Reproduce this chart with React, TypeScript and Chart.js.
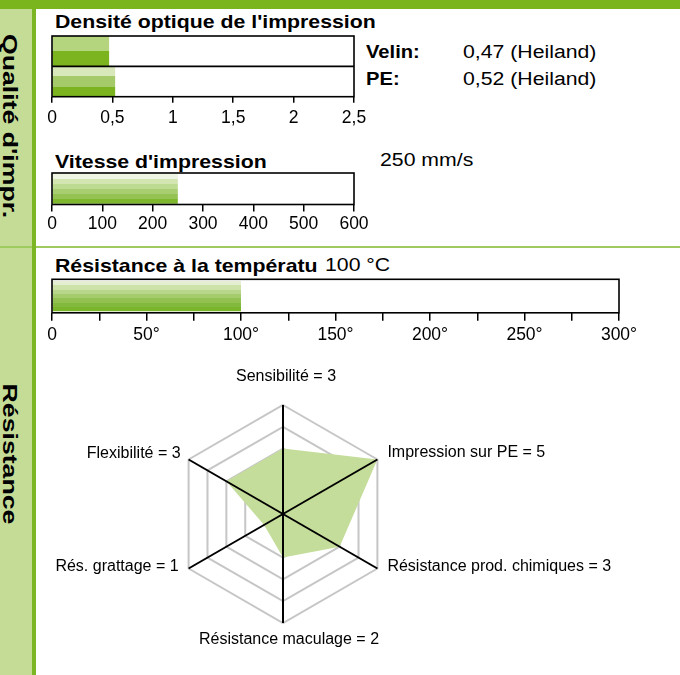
import React, { useEffect, useRef } from 'react';
import { Chart, registerables } from 'chart.js';

Chart.register(...registerables);

const FONT = '"Liberation Sans", Arial, Helvetica, sans-serif';

// ---------------- data ----------------
const densityCategories = ['Velin', 'PE'];
const densityValues = [0.47, 0.52];
const densityTickLabels = ['0', '0,5', '1', '1,5', '2', '2,5'];

const speedCategories = ["Vitesse d'impression"];
const speedValues = [250];
const speedTickLabels = ['0', '100', '200', '300', '400', '500', '600'];

const tempCategories = ['Résistance à la température'];
const tempValues = [100];
const tempTickLabels = ['0', '', '50°', '', '100°', '', '150°', '', '200°', '', '250°', '', '300°'];

const radarLabels = [
  'Sensibilité = 3',
  'Impression sur PE = 5',
  'Résistance prod. chimiques = 3',
  'Résistance maculage = 2',
  'Rés. grattage = 1',
  'Flexibilité = 3',
];
const radarValues = [3, 5, 3, 2, 1, 3];

// ---------------- texts ----------------
const sectionLabels = ["Qualité d'impr.", 'Résistance'];
const densityTitle = "Densité optique de l'impression";
const densityLegendNames = ['Velin:', 'PE:'];
const densityLegendValues = ['0,47 (Heiland)', '0,52 (Heiland)'];
const speedTitle = "Vitesse d'impression";
const speedValueText = '250 mm/s';
const tempTitle = 'Résistance à la températu';
const tempValueText = '100 °C';

// ---------------- styles ----------------
const densityPalettes = [
  ['#b4d47e', '#7cb41f'],
  ['#d9e8bb', '#a5ca69', '#7cb41f'],
];
const speedPalettes = [['#eef5e3', '#d3e6b1', '#bedb92', '#a8ce71', '#94c353', '#7fb72c']];
const tempPalettes = [['#e3efd0', '#cde2a8', '#b8d689', '#a4cb6c', '#92c152', '#83b93d', '#7ab52b']];
// [dx, dy, align] relative to each radar vertex
const radarLabelOffsets: [number, number, CanvasTextAlign][] = [
  [3, -28, 'center'],
  [10, -6.5, 'left'],
  [10, -2, 'left'],
  [6, 17, 'center'],
  [-10, -2, 'right'],
  [-8, -6, 'right'],
];

function stripeFill(palettes: string[][], pct: number) {
  return (c: any) => {
    const chart = c.chart;
    const ys = chart.scales && chart.scales.y;
    const pal = palettes[c.dataIndex ?? 0] || palettes[0];
    if (!ys || c.type !== 'data' || !isFinite(ys.top) || ys.bottom <= ys.top) return pal[pal.length - 1];
    const n = chart.data.labels.length;
    const band = ((ys.bottom - ys.top) / n) * pct;
    const mid = ys.getPixelForValue(c.dataIndex);
    const g = chart.ctx.createLinearGradient(0, mid - band / 2, 0, mid + band / 2);
    pal.forEach((col, j) => {
      g.addColorStop(j / pal.length, col);
      g.addColorStop((j + 1) / pal.length, col);
    });
    return g;
  };
}

const framePlugin = {
  id: 'frame',
  afterDatasetsDraw(chart: any) {
    const a = chart.chartArea;
    const ctx = chart.ctx;
    const n = chart.data.labels.length;
    ctx.save();
    ctx.strokeStyle = '#000';
    ctx.lineWidth = 1.6;
    ctx.strokeRect(a.left, a.top, a.right - a.left, a.bottom - a.top);
    for (let i = 1; i < n; i++) {
      const y = a.top + ((a.bottom - a.top) * i) / n;
      ctx.beginPath();
      ctx.moveTo(a.left, y);
      ctx.lineTo(a.right, y);
      ctx.stroke();
    }
    ctx.restore();
  },
};

function barConfig(
  cats: string[],
  vals: number[],
  max: number,
  step: number,
  tickLabels: string[],
  palettes: string[][],
  pct: number,
  tickLen: number,
  tickPad: number,
  padding: any,
): any {
  return {
    type: 'bar',
    data: {
      labels: cats,
      datasets: [
        {
          data: vals,
          backgroundColor: stripeFill(palettes, pct),
          borderWidth: 0,
          barPercentage: pct,
          categoryPercentage: 1,
        },
      ],
    },
    options: {
      indexAxis: 'y',
      animation: false,
      responsive: false,
      devicePixelRatio: 1,
      layout: { padding },
      plugins: { legend: { display: false }, tooltip: { enabled: false }, title: { display: false } },
      scales: {
        x: {
          type: 'linear',
          min: 0,
          max,
          ticks: {
            stepSize: step,
            autoSkip: false,
            maxRotation: 0,
            padding: tickPad,
            color: '#000',
            font: { family: FONT, size: 17.5, lineHeight: 1.2 },
            callback: (_v: any, i: number) => tickLabels[i],
          },
          grid: { drawOnChartArea: false, drawTicks: true, tickLength: tickLen, color: '#000', lineWidth: 1.5 },
          border: { display: false },
        },
        y: { display: false },
      },
    },
    plugins: [framePlugin],
  };
}

const radarLabelPlugin = {
  id: 'radarLabels',
  afterDraw(chart: any) {
    const s = chart.scales.r;
    const ctx = chart.ctx;
    ctx.save();
    ctx.font = `16px ${FONT}`;
    ctx.fillStyle = '#000';
    ctx.textBaseline = 'middle';
    (chart.data.labels as string[]).forEach((lab, i) => {
      const p = s.getPointPosition(i, s.drawingArea);
      const o = radarLabelOffsets[i];
      ctx.textAlign = o[2];
      ctx.fillText(lab, p.x + o[0], p.y + o[1]);
    });
    ctx.restore();
  },
};

function radarConfig(): any {
  return {
    type: 'radar',
    data: {
      labels: radarLabels,
      datasets: [
        {
          data: radarValues,
          backgroundColor: '#c5dd9a',
          borderWidth: 0,
          pointRadius: 0,
          fill: true,
        },
      ],
    },
    options: {
      animation: false,
      responsive: false,
      devicePixelRatio: 1,
      layout: { padding: { left: 134, top: 55, right: 268, bottom: 47 } },
      plugins: { legend: { display: false }, tooltip: { enabled: false } },
      scales: {
        r: {
          min: 0,
          max: 5,
          ticks: { stepSize: 1, display: false },
          grid: { color: '#c6c6c6', lineWidth: 2 },
          angleLines: { display: false },
          pointLabels: { display: false },
        },
        spokes: {
          type: 'radialLinear',
          axis: 'r',
          z: 1,
          min: 0,
          max: 5,
          ticks: { stepSize: 1, display: false, z: 1 },
          grid: { display: false, z: 1 },
          border: { z: 1 },
          angleLines: { display: true, color: '#000', lineWidth: 2 },
          pointLabels: { display: false },
        },
      },
    },
    plugins: [radarLabelPlugin],
  };
}

function Txt(props: { x: number; y: number; size: number; bold?: boolean; k?: number; children: any }) {
  const { x, y, size, bold, k = 1, children } = props;
  return (
    <div
      style={{
        position: 'absolute',
        left: x,
        top: y - size / 2,
        fontSize: size,
        fontWeight: bold ? 700 : 400,
        lineHeight: 1,
        whiteSpace: 'nowrap',
        transform: `scaleX(${k})`,
        transformOrigin: 'left center',
        fontFamily: FONT,
        color: '#000',
      }}
    >
      {children}
    </div>
  );
}

function VTxt(props: { x: number; y: number; size: number; k: number; children: any }) {
  const { x, y, size, k, children } = props;
  return (
    <div
      style={{
        position: 'absolute',
        left: x,
        top: y,
        fontSize: size,
        fontWeight: 700,
        lineHeight: 1,
        whiteSpace: 'nowrap',
        transform: `translate(-50%, -50%) rotate(90deg) scaleX(${k})`,
        fontFamily: FONT,
        color: '#000',
      }}
    >
      {children}
    </div>
  );
}

export default function App() {
  const densityRef = useRef<HTMLCanvasElement>(null);
  const speedRef = useRef<HTMLCanvasElement>(null);
  const tempRef = useRef<HTMLCanvasElement>(null);
  const radarRef = useRef<HTMLCanvasElement>(null);

  useEffect(() => {
    const charts: Chart[] = [];
    charts.push(
      new Chart(
        densityRef.current as HTMLCanvasElement,
        barConfig(densityCategories, densityValues, 2.5, 0.5, densityTickLabels, densityPalettes, 1, 6, 5, {
          left: 32,
          right: 36,
          top: 2,
          bottom: 2.3,
        }),
      ),
    );
    charts.push(
      new Chart(
        speedRef.current as HTMLCanvasElement,
        barConfig(speedCategories, speedValues, 600, 100, speedTickLabels, speedPalettes, 0.95, 7, 2, {
          left: 32,
          right: 36,
          top: 2,
          bottom: 3,
        }),
      ),
    );
    charts.push(
      new Chart(
        tempRef.current as HTMLCanvasElement,
        barConfig(tempCategories, tempValues, 300, 25, tempTickLabels, tempPalettes, 0.9, 8, 4, {
          left: 32,
          right: 31,
          top: 2.3,
          bottom: 2.7,
        }),
      ),
    );
    charts.push(new Chart(radarRef.current as HTMLCanvasElement, radarConfig()));
    return () => charts.forEach((c) => c.destroy());
  }, []);

  return (
    <div
      style={{
        position: 'fixed',
        left: 0,
        top: 0,
        width: 680,
        height: 675,
        background: '#fff',
        overflow: 'hidden',
        fontFamily: FONT,
      }}
    >
      <div style={{ position: 'absolute', left: 0, top: 0, width: 680, height: 9, background: '#7ab51d' }} />
      <div style={{ position: 'absolute', left: 0, top: 9, width: 32, height: 666, background: '#c5dc97' }} />
      <div style={{ position: 'absolute', left: 0, top: 246, width: 680, height: 2, background: '#9fca5f' }} />
      <div style={{ position: 'absolute', left: 32, top: 9, width: 4, height: 666, background: '#7db625' }} />

      <VTxt x={9.5} y={126} size={21} k={1.27}>
        {sectionLabels[0]}
      </VTxt>
      <VTxt x={9.5} y={454} size={21} k={1.27}>
        {sectionLabels[1]}
      </VTxt>

      <Txt x={55} y={21.5} size={19} bold k={1.12}>
        {densityTitle}
      </Txt>
      <Txt x={366} y={52} size={18} bold k={1.12}>
        {densityLegendNames[0]}
      </Txt>
      <Txt x={463} y={52} size={18} k={1.18}>
        {densityLegendValues[0]}
      </Txt>
      <Txt x={366} y={79} size={18} bold k={1.12}>
        {densityLegendNames[1]}
      </Txt>
      <Txt x={463} y={79} size={18} k={1.18}>
        {densityLegendValues[1]}
      </Txt>

      <Txt x={55} y={161} size={19} bold k={1.12}>
        {speedTitle}
      </Txt>
      <Txt x={380} y={160} size={18} k={1.18}>
        {speedValueText}
      </Txt>

      <Txt x={55} y={265} size={19} bold k={1.12}>
        {tempTitle}
      </Txt>
      <Txt x={325} y={265} size={18} k={1.18}>
        {tempValueText}
      </Txt>

      <canvas ref={densityRef} width={370} height={102} style={{ position: 'absolute', left: 20, top: 34 }} />
      <canvas ref={speedRef} width={370} height={68} style={{ position: 'absolute', left: 20, top: 171 }} />
      <canvas ref={tempRef} width={630} height={72} style={{ position: 'absolute', left: 20, top: 277 }} />
      <canvas ref={radarRef} width={620} height={320} style={{ position: 'absolute', left: 40, top: 350 }} />
    </div>
  );
}
